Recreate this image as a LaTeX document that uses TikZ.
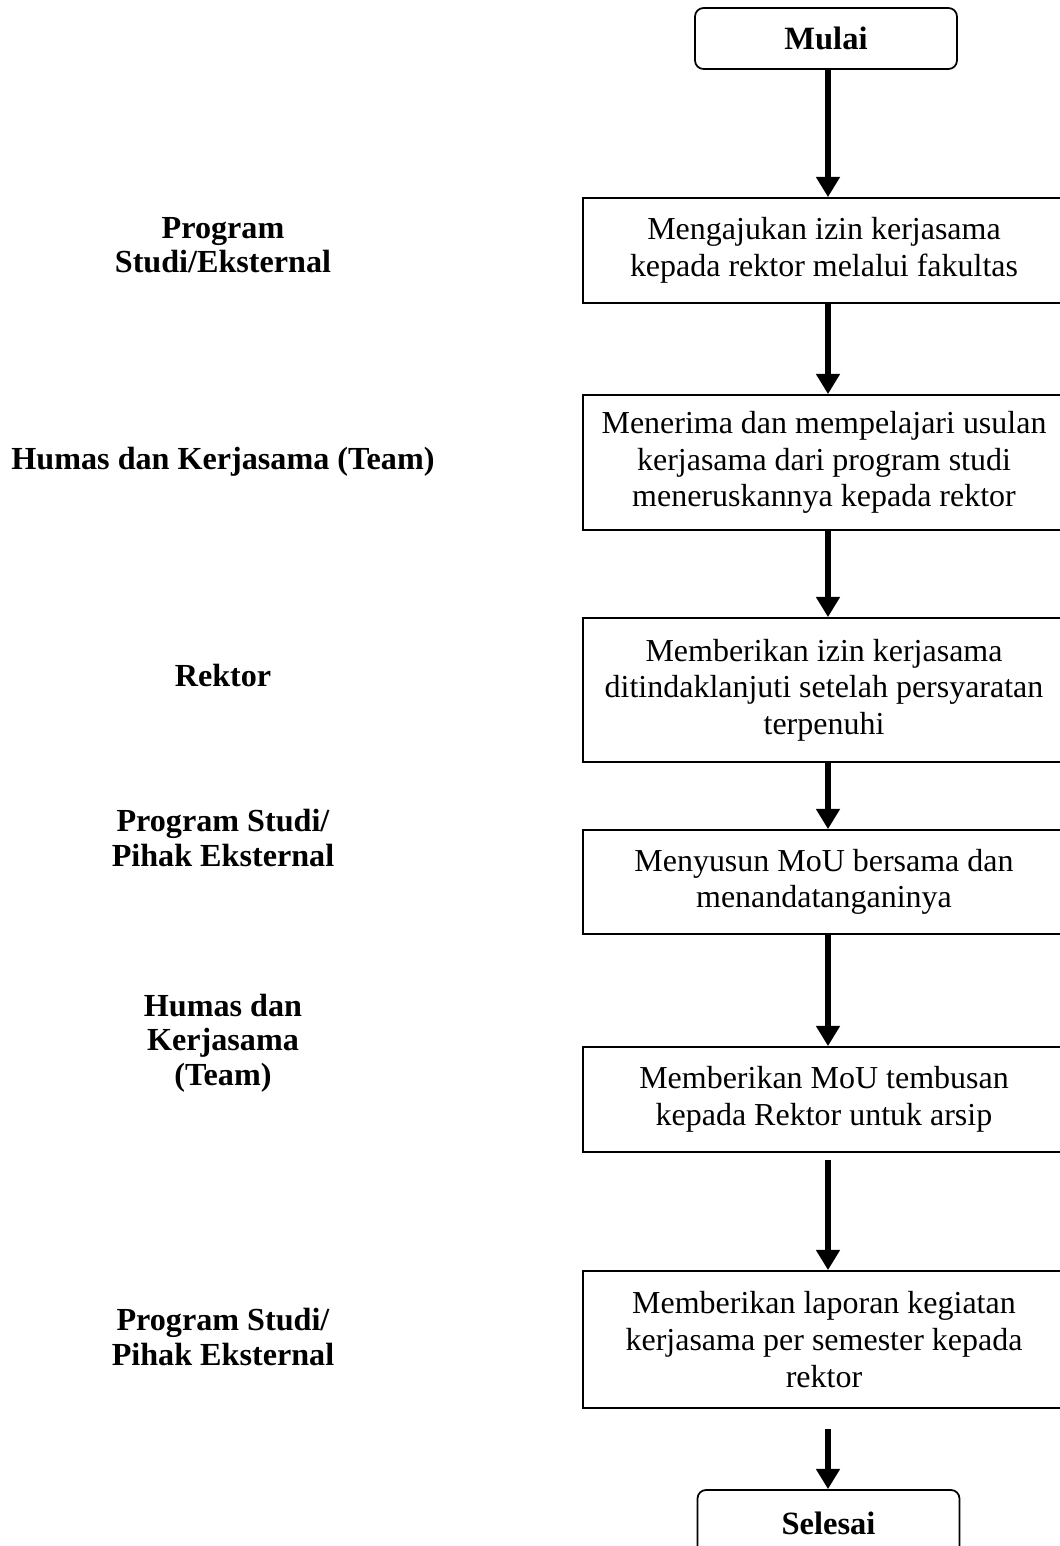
\documentclass[tikz,border=0pt]{standalone}
\usepackage{fontspec}
\setmainfont{Liberation Serif}
\usepackage{tikz}
\usetikzlibrary{
    arrows.meta,
    positioning
}
\tikzstyle{arrow} = [
    -{Triangle[length=11.5pt,width=13pt]},
    line width=2.9pt,
    draw=black
]
\tikzstyle{process} = [
    rectangle,
    draw=black,
    line width=1pt,
    align=center,
    minimum width=9.64cm,
    inner sep=0pt,
    font=\fontsize{18.2}{20.8}\selectfont
]
\tikzstyle{startstop} = [
    rectangle,
    rounded corners=0.17cm,
    draw=black,
    line width=1pt,
    minimum width=5.24cm,
    font=\fontsize{18.5}{20.8}\selectfont\bfseries
]
\tikzstyle{actor} = [
    align=center,
    font=\fontsize{18.3}{19.5}\selectfont\bfseries
]

\begin{document}
\begin{tikzpicture}[x=0.02cm, y=-0.02cm]
        \useasboundingbox (0,0) rectangle (1059,1546);

        % Start and end
        \node[startstop, minimum height=1.22cm] (mulai) at (826,38.5) {Mulai};
        \node[startstop, minimum height=1.32cm] (selesai) at (828.5,1523) {Selesai};

        % Process boxes
        \node[process, minimum height=2.10cm] (ajukan) at (824,250.5)
            {Mengajukan izin kerjasama\\kepada rektor melalui fakultas};
        \node[process, minimum height=2.70cm] (terima) at (824,462.5)
            {Menerima dan mempelajari usulan\\kerjasama dari program studi\\meneruskannya kepada rektor};
        \node[process, minimum height=2.88cm] (izin) at (824,690)
            {Memberikan izin kerjasama\\ditindaklanjuti setelah persyaratan\\terpenuhi};
        \node[process, minimum height=2.08cm] (mou) at (824,882)
            {Menyusun MoU bersama dan\\menandatanganinya};
        \node[process, minimum height=2.10cm] (tembusan) at (824,1099.5)
            {Memberikan MoU tembusan\\kepada Rektor untuk arsip};
        \node[process, minimum height=2.74cm] (laporan) at (824,1339.5)
            {Memberikan laporan kegiatan\\kerjasama per semester kepada\\rektor};

        % Actors (left column)
        \node[actor] (a1) at (223,245) {Program\\Studi/Eksternal};
        \node[actor] (a2) at (223,462) {Humas dan Kerjasama (Team)};
        \node[actor] (a3) at (223,675) {Rektor};
        \node[actor] (a4) at (223,838) {Program Studi/\\Pihak Eksternal};
        \node[actor] (a5) at (223,1043) {Humas dan\\Kerjasama\\(Team)};
        \node[actor] (a6) at (223,1337) {Program Studi/\\Pihak Eksternal};

        % Flow arrows
        \draw[arrow] (mulai.south -| 828,0) -- (ajukan.north -| 828,0);
        \draw[arrow] (ajukan.south -| 828,0) -- (terima.north -| 828,0);
        \draw[arrow] (terima.south -| 828,0) -- (izin.north -| 828,0);
        \draw[arrow] (izin.south -| 828,0) -- (mou.north -| 828,0);
        \draw[arrow] (mou.south -| 828,0) -- (tembusan.north -| 828,0);
        \draw[arrow, shorten <=0.14cm] (tembusan.south -| 828,0) -- (laporan.north -| 828,0);
        \draw[arrow, shorten <=0.40cm] (laporan.south -| 828,0) -- (selesai.north -| 828,0);
    \end{tikzpicture}
\end{document}
